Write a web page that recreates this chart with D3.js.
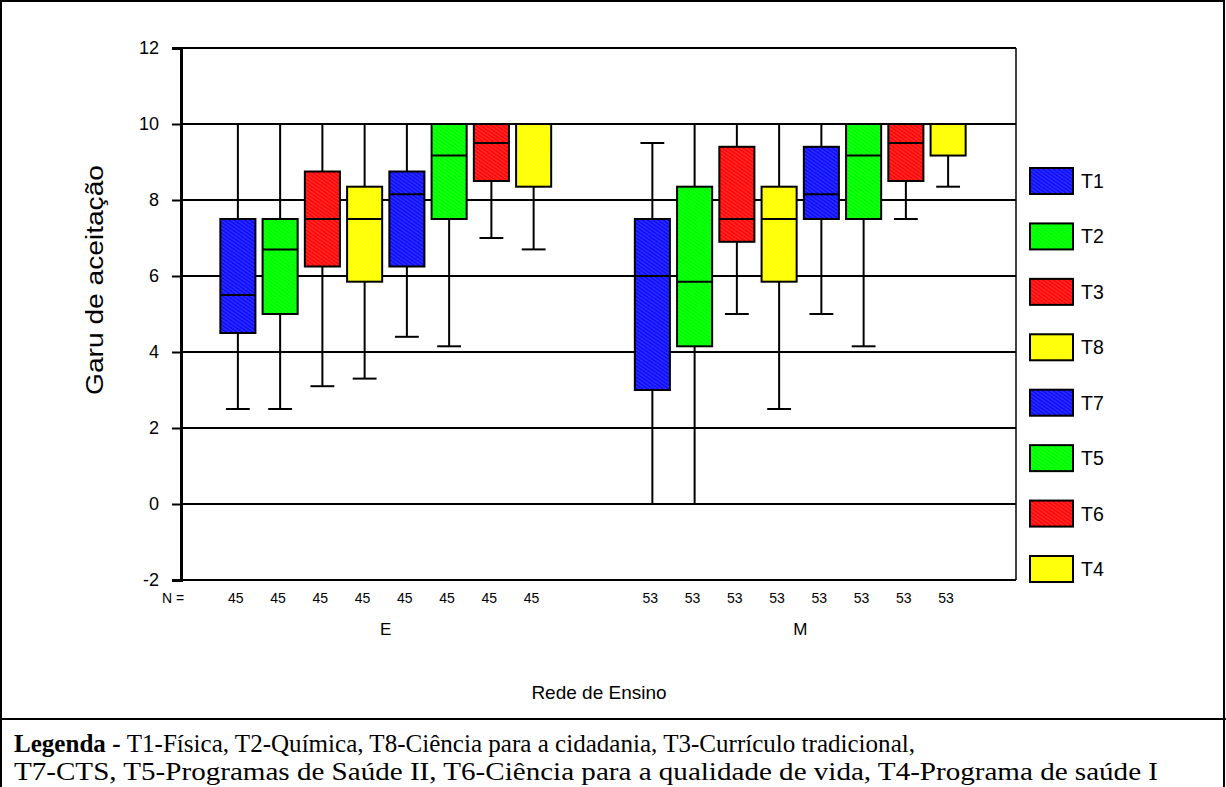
<!DOCTYPE html>
<html>
<head>
<meta charset="utf-8">
<script src="https://cdn.jsdelivr.net/npm/d3@7"></script>
<style>
  body { margin: 0; background: #fff; }
  svg { display: block; font-family: Arial, "Liberation Sans", sans-serif; }
</style>
</head>
<body>
<svg id="chart" width="1226" height="787"></svg>
<script>
'use strict';

// groups on the x axis and the series drawn inside each group
const groups = ['E', 'M'];
const series = ['T1', 'T2', 'T3', 'T8', 'T7', 'T5', 'T6', 'T4'];
const counts = {E: 45, M: 53};
const yTicks = [-2, 0, 2, 4, 6, 8, 10, 12];

// box stats per group, in series order: [min, q1, median, q3, max]
const statsE = [
  [2.5, 4.5, 5.5, 7.5, 10],
  [2.5, 5.0, 6.7, 7.5, 10],
  [3.1, 6.25, 7.5, 8.75, 10],
  [3.3, 5.85, 7.5, 8.35, 10],
  [4.4, 6.25, 8.15, 8.75, 10],
  [4.15, 7.5, 9.17, 10, 10],
  [7.0, 8.5, 9.5, 10, 10],
  [6.7, 8.35, 10, 10, 10]
];
const statsM = [
  [0, 3.0, 6.0, 7.5, 9.5],
  [0, 4.15, 5.85, 8.35, 10],
  [5.0, 6.9, 7.5, 9.4, 10],
  [2.5, 5.85, 7.5, 8.35, 10],
  [5.0, 7.5, 8.15, 9.4, 10],
  [4.15, 7.5, 9.17, 10, 10],
  [7.5, 8.5, 9.5, 10, 10],
  [8.35, 9.17, 10, 10, 10]
];

// colour of each series: [base fill, hatch line]
const seriesColors = {
  T1: ['#1010ff', '#5a5aff'],
  T2: ['#00ff00', '#30ff30'],
  T3: ['#ff0a0a', '#ff5a5a'],
  T8: ['#ffff00', '#ffff40'],
  T7: ['#1010ff', '#5a5aff'],
  T5: ['#00ff00', '#40ff40'],
  T6: ['#ff0a0a', '#ff5a5a'],
  T4: ['#ffff00', '#ffff40']
};

const caption1 = 'T1-Física, T2-Química, T8-Ciência para a cidadania, T3-Currículo tradicional,';
const caption2 = 'T7-CTS, T5-Programas de Saúde II, T6-Ciência para a qualidade de vida, T4-Programa de saúde I';

/**
 * Layout
 */
const plot = {left: 181, right: 1016, top: 48, bottom: 580};
const svg = d3.select('#chart');

const boxes = [];
groups.forEach((g) => {
  const stats = g === 'E' ? statsE : statsM;
  series.forEach((s, i) => {
    const [min, q1, median, q3, max] = stats[i];
    boxes.push({group: g, key: s, min, q1, median, q3, max});
  });
});

const y = d3.scaleLinear().domain([-2, 12]).range([plot.bottom, plot.top]);

// group centres, then the series band inside each group
const xGroup = d3.scalePoint()
  .domain(groups)
  .range([plot.left, plot.right - 11])
  .padding(0.494);

const xInner = d3.scaleBand()
  .domain(series)
  .range([-169, 169])
  .paddingInner(0.17)
  .paddingOuter(0.085);

const bw = xInner.bandwidth();
const cx = (d) => xGroup(d.group) + xInner(d.key) + bw / 2;

// hatch patterns
const defs = svg.append('defs');
series.forEach((s) => {
  const [base, line] = seriesColors[s];
  const p = defs.append('pattern')
    .attr('id', `hatch-${s}`)
    .attr('patternUnits', 'userSpaceOnUse')
    .attr('width', 3)
    .attr('height', 3)
    .attr('patternTransform', 'rotate(-55)');
  p.append('rect').attr('width', 3).attr('height', 3).attr('fill', base);
  p.append('line')
    .attr('x1', 0).attr('y1', 0).attr('x2', 0).attr('y2', 3)
    .attr('stroke', line).attr('stroke-width', 1);
});

// outer frame and caption separator
svg.append('rect')
  .attr('x', 1).attr('y', 1)
  .attr('width', 1223).attr('height', 790)
  .attr('fill', 'none').attr('stroke', '#000').attr('stroke-width', 2);

svg.append('line')
  .attr('x1', 0).attr('x2', 1226)
  .attr('y1', 719).attr('y2', 719)
  .attr('stroke', '#000').attr('stroke-width', 2);

// gridlines
svg.append('g')
  .selectAll('line')
  .data(yTicks)
  .join('line')
  .attr('x1', plot.left).attr('x2', plot.right)
  .attr('y1', (d) => y(d)).attr('y2', (d) => y(d))
  .attr('stroke', '#000').attr('stroke-width', 2);

// right edge of plot
svg.append('line')
  .attr('x1', plot.right).attr('x2', plot.right)
  .attr('y1', plot.top).attr('y2', plot.bottom)
  .attr('stroke', '#000').attr('stroke-width', 1.5);

// y axis (plain hyphen for the negative label, like the original)
const yAxis = svg.append('g')
  .attr('transform', `translate(${plot.left},0)`)
  .call(d3.axisLeft(y).tickValues(yTicks).tickSize(9).tickPadding(13).tickFormat((d) => String(d)));

yAxis.select('.domain').attr('stroke', '#000').attr('stroke-width', 3);
yAxis.selectAll('.tick line').attr('stroke', '#000').attr('stroke-width', 2);
yAxis.selectAll('.tick text')
  .attr('fill', '#000')
  .style('font-size', '18px')
  .style('font-family', 'Arial, "Liberation Sans", sans-serif');

svg.append('text')
  .attr('transform', 'translate(103,280) rotate(-90)')
  .attr('text-anchor', 'middle')
  .attr('textLength', 230)
  .attr('lengthAdjust', 'spacingAndGlyphs')
  .style('font-size', '23px')
  .text('Garu de aceitação');

// whiskers
const marks = svg.append('g').selectAll('g.box')
  .data(boxes)
  .join('g')
  .classed('box', true);

marks.append('line')
  .attr('x1', cx).attr('x2', cx)
  .attr('y1', (d) => y(d.max)).attr('y2', (d) => y(d.min))
  .attr('stroke', '#000').attr('stroke-width', 2);

marks.selectAll('line.cap')
  .data((d) => [{d, v: d.min}, {d, v: d.max}])
  .join('line')
  .classed('cap', true)
  .attr('x1', (c) => cx(c.d) - bw * 0.34)
  .attr('x2', (c) => cx(c.d) + bw * 0.34)
  .attr('y1', (c) => y(c.v)).attr('y2', (c) => y(c.v))
  .attr('stroke', '#000').attr('stroke-width', 2);

// boxes
marks.append('rect')
  .attr('x', (d) => cx(d) - bw / 2)
  .attr('width', bw)
  .attr('y', (d) => y(d.q3))
  .attr('height', (d) => y(d.q1) - y(d.q3))
  .attr('fill', (d) => `url(#hatch-${d.key})`)
  .attr('stroke', '#000').attr('stroke-width', 2);

marks.append('line')
  .attr('x1', (d) => cx(d) - bw / 2).attr('x2', (d) => cx(d) + bw / 2)
  .attr('y1', (d) => y(d.median)).attr('y2', (d) => y(d.median))
  .attr('stroke', '#000').attr('stroke-width', 2);

// N row
svg.append('text')
  .attr('x', 162).attr('y', 603)
  .style('font-size', '14px')
  .text('N =');

svg.append('g').selectAll('text')
  .data(boxes)
  .join('text')
  .attr('x', (d) => cx(d) - 2)
  .attr('y', 603)
  .attr('text-anchor', 'middle')
  .style('font-size', '14px')
  .text((d) => counts[d.group]);

svg.append('g').selectAll('text')
  .data(groups)
  .join('text')
  .attr('x', (g) => xGroup(g))
  .attr('y', 635)
  .attr('text-anchor', 'middle')
  .style('font-size', '17px')
  .text((g) => g);

svg.append('text')
  .attr('x', 599).attr('y', 699)
  .attr('text-anchor', 'middle')
  .style('font-size', '19px')
  .text('Rede de Ensino');

// legend
const legendY = d3.scalePoint().domain(series).range([181, 569]);
const legend = svg.append('g').selectAll('g')
  .data(series)
  .join('g')
  .attr('transform', (s) => `translate(1030,${legendY(s)})`);

legend.append('rect')
  .attr('x', 0).attr('y', -13)
  .attr('width', 43).attr('height', 26)
  .attr('fill', (s) => `url(#hatch-${s})`)
  .attr('stroke', '#000').attr('stroke-width', 2);

legend.append('text')
  .attr('x', 51).attr('y', 7)
  .style('font-size', '19.5px')
  .text((s) => s);

// caption
const cap = svg.append('g')
  .style('font-family', '"Liberation Serif", "Times New Roman", serif')
  .style('font-size', '25px');

const line1 = cap.append('text')
  .attr('x', 14).attr('y', 752)
  .attr('textLength', 901)
  .attr('lengthAdjust', 'spacingAndGlyphs');
line1.append('tspan').style('font-weight', 'bold').text('Legenda - ');
line1.append('tspan').text(caption1);

cap.append('text')
  .attr('x', 14).attr('y', 780)
  .attr('textLength', 1144)
  .attr('lengthAdjust', 'spacingAndGlyphs')
  .text(caption2);
</script>
</body>
</html>
